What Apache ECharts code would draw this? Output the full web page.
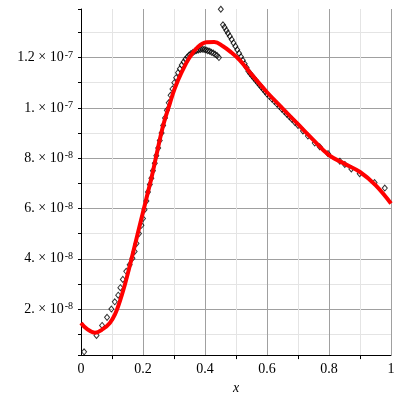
<!DOCTYPE html>
<html><head><meta charset="utf-8">
<script src="https://cdn.jsdelivr.net/npm/echarts@6/dist/echarts.min.js"></script>
<style>html,body{margin:0;padding:0;background:#fff}#c{width:400px;height:400px}</style>
</head><body><div id="c"></div>
<script>
// y values are in units of 1e-8
const fitX = [0, 0.02, 0.045, 0.07, 0.093, 0.11, 0.125, 0.141, 0.157, 0.175, 0.192, 0.21, 0.227, 0.243, 0.265, 0.286, 0.302, 0.324, 0.35, 0.377, 0.405, 0.43, 0.458, 0.485, 0.512, 0.55, 0.6, 0.65, 0.7, 0.75, 0.8, 0.85, 0.9, 0.95, 1.0];
const fitY = [1.45, 1.2, 1.06, 1.2, 1.45, 1.8, 2.3, 2.95, 3.7, 4.6, 5.45, 6.35, 7.2, 8.1, 9.3, 10.15, 10.76, 11.4, 12.0, 12.42, 12.61, 12.62, 12.45, 12.2, 11.9, 11.33, 10.62, 9.98, 9.35, 8.72, 8.12, 7.78, 7.45, 6.93, 6.2];

const dataX1 = [0.01, 0.05, 0.068, 0.084, 0.098, 0.109, 0.12, 0.127, 0.135, 0.146, 0.157, 0.166, 0.173, 0.179, 0.187, 0.195, 0.2, 0.205, 0.211, 0.216, 0.222, 0.227, 0.232, 0.238, 0.243, 0.249, 0.254, 0.26, 0.265, 0.271, 0.277, 0.283, 0.289, 0.295, 0.301, 0.307, 0.313, 0.319, 0.325, 0.331, 0.337, 0.343, 0.349, 0.355, 0.361, 0.367, 0.373, 0.379, 0.385, 0.391, 0.397, 0.403, 0.409, 0.415, 0.421, 0.427, 0.433, 0.439, 0.445];
const dataY1 = [0.3, 0.95, 1.35, 1.67, 2.0, 2.29, 2.55, 2.85, 3.18, 3.5, 3.76, 4.02, 4.29, 4.61, 5.0, 5.33, 5.6, 5.95, 6.3, 6.65, 6.95, 7.2, 7.5, 7.8, 8.1, 8.4, 8.7, 9.0, 9.3, 9.6, 9.9, 10.2, 10.5, 10.75, 11.0, 11.2, 11.4, 11.55, 11.7, 11.82, 11.93, 12.02, 12.1, 12.16, 12.2, 12.25, 12.28, 12.3, 12.32, 12.33, 12.32, 12.3, 12.27, 12.25, 12.21, 12.18, 12.13, 12.08, 12.0];

const dataX2 = [0.451, 0.458, 0.463, 0.469, 0.474, 0.48, 0.486, 0.492, 0.498, 0.504, 0.51, 0.516, 0.522, 0.528, 0.534, 0.54, 0.546, 0.552, 0.558, 0.564, 0.57, 0.576, 0.582, 0.588, 0.594, 0.6, 0.608, 0.616, 0.624, 0.632, 0.64, 0.648, 0.656, 0.664, 0.672, 0.68, 0.69, 0.7, 0.716, 0.732, 0.754, 0.77, 0.797, 0.835, 0.851, 0.872, 0.899, 0.947, 0.98];
const dataY2 = [13.92, 13.3, 13.2, 13.08, 12.97, 12.85, 12.72, 12.58, 12.45, 12.31, 12.17, 12.03, 11.89, 11.75, 11.6, 11.46, 11.36, 11.27, 11.18, 11.09, 11.0, 10.91, 10.82, 10.73, 10.64, 10.55, 10.45, 10.35, 10.25, 10.15, 10.05, 9.95, 9.85, 9.75, 9.65, 9.55, 9.42, 9.3, 9.08, 8.88, 8.6, 8.45, 8.18, 7.88, 7.75, 7.57, 7.38, 7.03, 6.81];

const xTicks = [0, 0.2, 0.4, 0.6, 0.8, 1];
const xTickLabels = ['0', '0.2', '0.4', '0.6', '0.8', '1'];
const yTicks = [2, 4, 6, 8, 10, 12];
const yMantissa = ['2.', '4.', '6.', '8.', '1.', '1.2'];
const yExponent = ['-8', '-8', '-8', '-8', '-7', '-7'];

const zip = (xs, ys) => xs.map((x, i) => [x, ys[i]]);
const serif = '"Liberation Serif", "DejaVu Serif", serif';

const chart = echarts.init(document.getElementById('c'), null, {renderer: 'canvas'});
chart.setOption({
  animation: false,
  backgroundColor: '#fff',
  grid: {left: 81, right: 9, top: 9, bottom: 40},
  xAxis: {
    type: 'value', min: 0, max: 1, interval: 0.2,
    name: 'x', nameLocation: 'middle', nameGap: 22,
    nameTextStyle: {fontFamily: serif, fontStyle: 'italic', fontSize: 14, color: '#000'},
    axisLine: {show: true, onZero: false, lineStyle: {color: '#000', width: 1}},
    axisTick: {show: false},
    minorTick: {show: true, splitNumber: 2, length: 4, lineStyle: {color: '#000'}},
    axisLabel: {
      fontFamily: serif, fontSize: 14, color: '#000', margin: 7,
      formatter: v => { const i = xTicks.findIndex(t => Math.abs(t - v) < 1e-9); return i >= 0 ? xTickLabels[i] : ''; }
    },
    splitLine: {show: true, lineStyle: {color: '#a0a0a0', width: 1}},
    minorSplitLine: {show: true, lineStyle: {color: '#e4e4e4', width: 1}}
  },
  yAxis: {
    type: 'value', min: 0.17, max: 13.93, splitNumber: 7,
    axisLine: {show: true, onZero: false, lineStyle: {color: '#000', width: 1}},
    axisTick: {show: true, length: 3, lineStyle: {color: '#000'}},
    minorTick: {show: true, splitNumber: 2, length: 3, lineStyle: {color: '#000'}},
    axisLabel: {
      showMinLabel: false, showMaxLabel: false, margin: 8,
      formatter: v => {
        const i = yTicks.findIndex(t => Math.abs(t - v) < 1e-6);
        if (i < 0) return '';
        return '{m|' + yMantissa[i] + ' × 10}{e|' + yExponent[i] + '}';
      },
      rich: {
        m: {fontFamily: serif, fontSize: 14, color: '#000', lineHeight: 15},
        e: {fontFamily: serif, fontSize: 10, color: '#000', verticalAlign: 'top', lineHeight: 15, padding: [0, 0, 7, 1]}
      }
    },
    splitLine: {show: true, showMinLine: false, showMaxLine: false, lineStyle: {color: '#a0a0a0', width: 1}},
    minorSplitLine: {show: true, lineStyle: {color: '#e4e4e4', width: 1}}
  },
  series: [
    {
      type: 'scatter', name: 'data1', data: zip(dataX1, dataY1), clip: false,
      symbol: 'diamond', symbolSize: [5, 6], z: 2,
      itemStyle: {color: 'rgba(0,0,0,0)', borderColor: '#000', borderWidth: 1}
    },
    {
      type: 'scatter', name: 'data2', data: zip(dataX2, dataY2), clip: false,
      symbol: 'diamond', symbolSize: [5, 6], z: 2,
      itemStyle: {color: 'rgba(0,0,0,0)', borderColor: '#000', borderWidth: 1}
    },
    {
      type: 'line', name: 'fit', data: zip(fitX, fitY), smooth: 0.4, showSymbol: false, z: 3,
      lineStyle: {color: '#ff0000', width: 4}
    }
  ]
});
</script></body></html>
